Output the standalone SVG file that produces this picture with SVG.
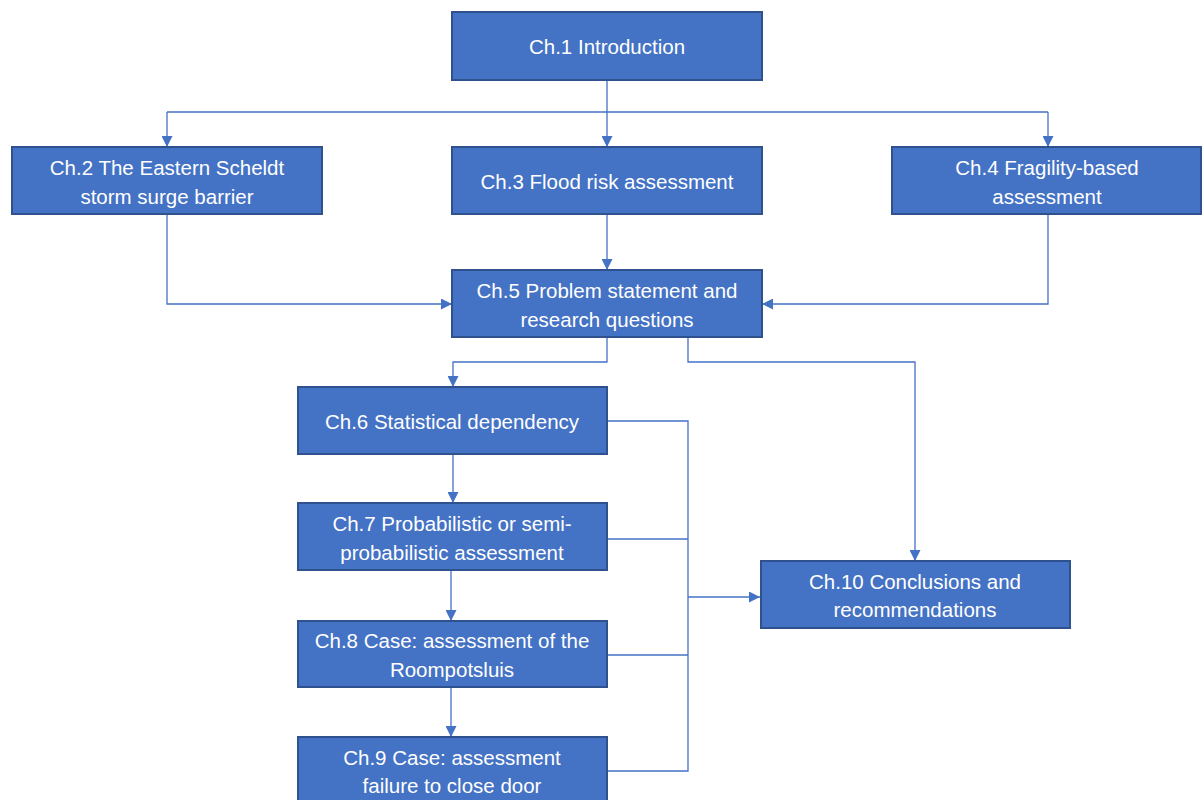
<svg xmlns="http://www.w3.org/2000/svg" width="1202" height="800" viewBox="0 0 1202 800">
<defs>
<style>
.box{fill:#4472C4;stroke:#2F528F;stroke-width:2}
.t{font-family:"Liberation Sans",Arial,sans-serif;font-size:20.5px;fill:#FFFFFF;text-anchor:middle;dominant-baseline:central}
.c{fill:none;stroke:#4472C4;stroke-width:1.3}
</style>
<marker id="ah" viewBox="0 0 10 10" refX="10" refY="5" markerWidth="11" markerHeight="11" markerUnits="userSpaceOnUse" orient="auto">
<path d="M0,0 L10,5 L0,10 Z" fill="#4472C4"/>
</marker>
</defs>
<rect width="1202" height="800" fill="#FFFFFF"/>
<g id="connectors">
<path class="c" d="M607,80 V147" marker-end="url(#ah)"/>
<path class="c" d="M167,112 H1048"/>
<path class="c" d="M167,112 V147" marker-end="url(#ah)"/>
<path class="c" d="M1048,112 V147" marker-end="url(#ah)"/>
<path class="c" d="M167,214 V304 H452" marker-end="url(#ah)"/>
<path class="c" d="M1048,214 V304 H762" marker-end="url(#ah)"/>
<path class="c" d="M607,214 V270" marker-end="url(#ah)"/>
<path class="c" d="M607,337 V362 H453 V387" marker-end="url(#ah)"/>
<path class="c" d="M688,337 V362 H915 V561" marker-end="url(#ah)"/>
<path class="c" d="M453,454 V503" marker-end="url(#ah)"/>
<path class="c" d="M451,570 V621" marker-end="url(#ah)"/>
<path class="c" d="M451,687 V737" marker-end="url(#ah)"/>
<path class="c" d="M607,421 H688 V771 H607"/>
<path class="c" d="M607,539 H688"/>
<path class="c" d="M607,655 H688"/>
<path class="c" d="M688,597 H760" marker-end="url(#ah)"/>
</g>
<g id="n1"><rect class="box" x="452" y="12" width="310" height="68"/><text class="t" x="607" y="46">Ch.1 Introduction</text></g>
<g id="n2"><rect class="box" x="12" y="147" width="310" height="67"/><text class="t" x="167" y="167">Ch.2 The Eastern Scheldt</text><text class="t" x="167" y="196">storm surge barrier</text></g>
<g id="n3"><rect class="box" x="452" y="147" width="310" height="67"/><text class="t" x="607" y="181">Ch.3 Flood risk assessment</text></g>
<g id="n4"><rect class="box" x="892" y="147" width="309" height="67"/><text class="t" x="1047" y="167">Ch.4 Fragility-based</text><text class="t" x="1047" y="196">assessment</text></g>
<g id="n5"><rect class="box" x="452" y="270" width="310" height="67"/><text class="t" x="607" y="290">Ch.5 Problem statement and</text><text class="t" x="607" y="319">research questions</text></g>
<g id="n6"><rect class="box" x="298" y="387" width="309" height="67"/><text class="t" x="452" y="421">Ch.6 Statistical dependency</text></g>
<g id="n7"><rect class="box" x="298" y="503" width="309" height="67"/><text class="t" x="452" y="523">Ch.7 Probabilistic or semi-</text><text class="t" x="452" y="552">probabilistic assessment</text></g>
<g id="n8"><rect class="box" x="298" y="621" width="309" height="66"/><text class="t" x="452" y="640">Ch.8 Case: assessment of the</text><text class="t" x="452" y="669">Roompotsluis</text></g>
<g id="n9"><rect class="box" x="298" y="737" width="309" height="67"/><text class="t" x="452" y="757">Ch.9 Case: assessment</text><text class="t" x="452" y="785">failure to close door</text></g>
<g id="n10"><rect class="box" x="761" y="561" width="309" height="67"/><text class="t" x="915" y="581">Ch.10 Conclusions and</text><text class="t" x="915" y="609">recommendations</text></g>
</svg>
